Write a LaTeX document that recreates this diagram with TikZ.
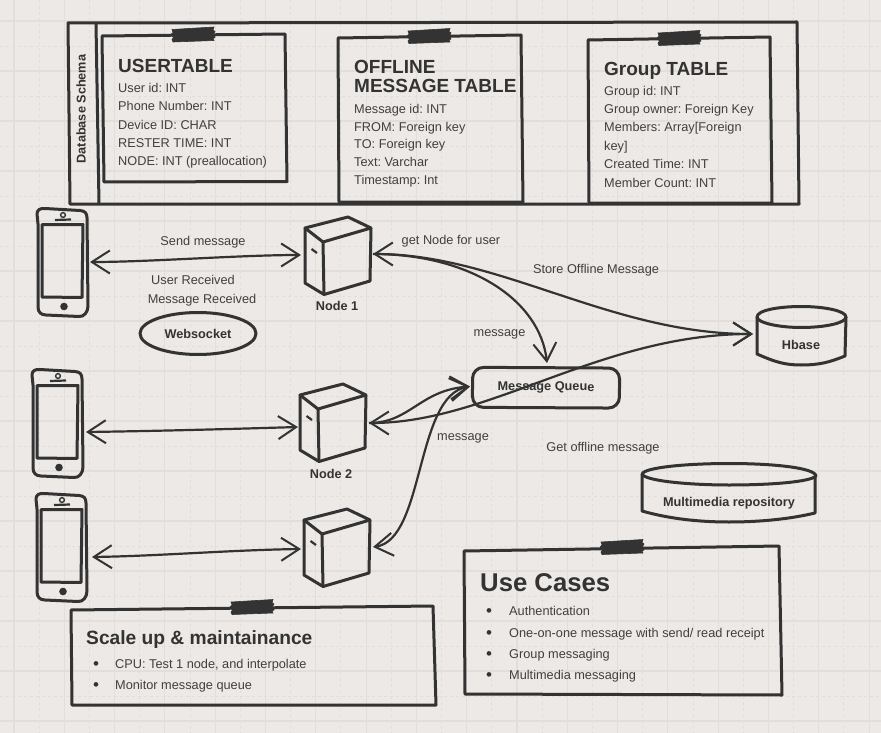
\documentclass[tikz,border=0pt]{standalone}
\usepackage{fontspec}
\setmainfont{Liberation Sans}
\frenchspacing
\usetikzlibrary{arrows.meta,shapes.geometric}
\definecolor{bg}{HTML}{ECE9E6}
\definecolor{gridc}{HTML}{E1DEDB}
\definecolor{ink}{HTML}{333333}
\definecolor{txt}{HTML}{404040}
\tikzset{
  sk/.style={draw=ink,line width=3pt,line join=round},
  thin sk/.style={draw=ink,line width=2.2pt,line join=round},
  conn/.style={draw=ink,line width=2.2pt,{Straight Barb[length=18pt,width=23pt,line width=2pt]}-{Straight Barb[length=18pt,width=23pt,line width=2pt]}},
  connto/.style={draw=ink,line width=2.2pt,-{Straight Barb[length=18pt,width=23pt,line width=2pt]}},
  tape/.style={fill=ink,draw=ink,line width=.6pt},
  lbl/.style={text=txt,font=\fontsize{12.75}{15}\selectfont,inner sep=0pt,anchor=center},
  row/.style={text=txt,font=\fontsize{12.75}{15}\selectfont,inner sep=0pt,anchor=base west},
  bul/.style={text=ink,font=\fontsize{17}{17}\selectfont,inner sep=0pt,anchor=base west},
  blbl/.style={text=ink,font=\fontsize{12.7}{15}\selectfont\bfseries,inner sep=0pt,anchor=center},
  title/.style={text=ink,font=\fontsize{19}{20}\selectfont\bfseries,inner sep=0pt,anchor=base west},
  bigtitle/.style={text=ink,font=\fontsize{25.7}{28}\selectfont\bfseries,inner sep=0pt,anchor=base west},
  midtitle/.style={text=ink,font=\fontsize{19.2}{21}\selectfont\bfseries,inner sep=0pt,anchor=base west},
}
\newcommand{\phonedraw}[1]{%
  \begin{scope}[shift={#1}]
  \draw[sk] (38,224) -- (37,214) .. controls (37,210) and (40,208) .. (45,208.5) -- (80,210.5) .. controls (85,211) and (87,213) .. (87,218) -- (88,306) .. controls (88,312) and (84,317) .. (79,316.5) -- (46,315) .. controls (41,315) and (38,312) .. (38,307) -- cycle;
  \draw[sk] (42,224.5) -- (83,224.5) -- (82,297.5) -- (42,297) -- cycle;
  \draw[thin sk] (55,220) -- (71,219.5);
  \draw[draw=ink,line width=1.4pt] (63,215) circle (2.4);
  \fill[ink] (64,306.5) circle (3.8);
  \end{scope}}
\newcommand{\serverdraw}[1]{%
  \begin{scope}[shift={#1}]
  \draw[sk] (305,228) -- (348,217) -- (371,228) -- (323,242) -- cycle;
  \draw[sk] (305,228) -- (305,283) -- (324,294.5) -- (370,281) -- (371,228);
  \draw[sk] (323,242) -- (324,294.5);
  \draw[thin sk] (311.5,249) -- (317,253);
  \end{scope}}
\newcommand{\tapedraw}[1]{%
  \fill[tape,shift={#1}] (-21,-5) -- (21,-7.5) -- (20,-4.5) -- (22,-3) -- (20.5,-.5) -- (22,3) -- (20,4) -- (21,6) -- (-20,7.5) -- (-21,5) -- (-19.5,3) -- (-22,0) -- (-20,-2) -- cycle;}
\begin{document}
\begin{tikzpicture}[x=1pt,y=-1pt]
\useasboundingbox (0,0) rectangle (881,733);
\fill[bg] (0,0) rectangle (881,733);
% grid
\foreach \i in {0,...,17}{
  \draw[gridc,line width=1.1pt] ({14+50.3*\i},0) -- ({14+50.3*\i},733);
  \draw[gridc,line width=.8pt,dashed] ({39+50.3*\i},0) -- ({39+50.3*\i},733);
}
\foreach \i in {0,...,14}{
  \draw[gridc,line width=1.1pt] (0,{21+50*\i}) -- (881,{21+50*\i});
  \draw[gridc,line width=.8pt,dashed] (0,{-4+50*\i}) -- (881,{-4+50*\i});
}
% schema frame
\draw[sk] (68,23) -- (797,22) -- (799,204) -- (70,204) -- cycle;
\draw[sk] (96,23) -- (99,204);
\node[blbl,rotate=90] (schema) at (81,109) {Database Schema};
% user table
\draw[sk] (102,36) -- (285,34) -- (287,181.5) -- (104,182) -- cycle;
\tapedraw{(193,34.5)}
\node[title] (t1) at (118,72.5) {USERTABLE};
\node[row] (t1a) at (118,92.5) {User id: INT};
\node[row] (t1b) at (118,110.5) {Phone Number: INT};
\node[row] (t1c) at (118,130) {Device ID: CHAR};
\node[row] (t1d) at (118,148) {RESTER TIME: INT};
\node[row] (t1e) at (118,166) {NODE: INT (preallocation)};
% offline table
\draw[sk] (338,38) -- (521,35) -- (523,202) -- (339,202) -- cycle;
\tapedraw{(429,36)}
\node[title] (t2) at (354,74) {OFFLINE};
\node[title] (t2t) at (354,93) {MESSAGE TABLE};
\node[row] (t2a) at (354,113.5) {Message id: INT};
\node[row] (t2b) at (354,131.5) {FROM: Foreign key};
\node[row] (t2c) at (354,149) {TO: Foreign key};
\node[row] (t2d) at (354,167) {Text: Varchar};
\node[row] (t2e) at (354,185) {Timestamp: Int};
% group table
\draw[sk] (588,40) -- (770,37) -- (772,203) -- (589,203) -- cycle;
\tapedraw{(679,38)}
\node[title] (t3) at (604,76) {Group TABLE};
\node[row] (t3a) at (604,96) {Group id: INT};
\node[row] (t3b) at (604,114) {Group owner: Foreign Key};
\node[row] (t3c) at (604,132) {Members: Array[Foreign};
\node[row] (t3d) at (604,151) {key]};
\node[row] (t3e) at (604,168) {Created Time: INT};
\node[row] (t3f) at (604,187) {Member Count: INT};
% phones, servers
\phonedraw{(0,0)}
\phonedraw{(-5,161)}
\phonedraw{(-1,285)}
\serverdraw{(0,0)}
\serverdraw{(-5,167)}
\serverdraw{(-1,292)}
\coordinate (p1) at (90,262);
\coordinate (p2) at (86,432);
\coordinate (p3) at (92,557);
\coordinate (n1w) at (301,255);
\coordinate (n2w) at (298,427);
\coordinate (n3w) at (301,549);
\coordinate (n1e) at (373,254);
\coordinate (n2e) at (369,423);
\coordinate (n3e) at (373,547);
\coordinate (qn) at (547,363);
\coordinate (qw) at (470,386.5);
\coordinate (hb) at (753,334);
\node[blbl] (n1) at (337,306) {Node 1};
\node[blbl] (n2) at (331,474) {Node 2};
% websocket
\node[sk,ellipse,minimum width=116pt,minimum height=42pt,inner sep=0pt,blbl] (ws) at (198,333.5) {Websocket};
% message queue
\node[sk,rounded corners=11pt,minimum width=147pt,minimum height=40pt,inner sep=0pt,blbl,rotate=-0.3] (mq) at (546,387.7) {Message Queue};
% hbase
\draw[sk] (757,317) .. controls (757,310) and (780,306.5) .. (801,306.5) .. controls (825,306.5) and (846,311) .. (846,317) .. controls (846,323) and (825,327.5) .. (801,327.5) .. controls (780,327.5) and (757,323) .. (757,317) -- cycle;
\draw[sk] (757,317) -- (757,354) .. controls (775,362) and (785,365) .. (801,365) .. controls (820,365) and (830,362) .. (845,356) -- (846,317);
\node[blbl] (hbl) at (801,345) {Hbase};
% multimedia
\draw[sk] (642,474) .. controls (645,467) and (690,463.5) .. (729,463.5) .. controls (775,463.5) and (815,468) .. (816,476) .. controls (810,482) and (770,485) .. (729,485) .. controls (690,485) and (645,481) .. (642,474) -- cycle;
\draw[sk] (642,474) -- (642,511) .. controls (670,519) and (700,522) .. (729,522) .. controls (760,522) and (790,519) .. (815,513) -- (815,476);
\node[blbl] (mm) at (729,503) {Multimedia repository};
% connectors
\draw[conn] (p1) .. controls (150,262) and (240,255) .. (n1w);
\draw[conn] (p2) .. controls (160,431) and (230,429) .. (n2w);
\draw[conn] (p3) .. controls (160,556) and (230,550) .. (n3w);
\draw[conn] (n1e) .. controls (500,254) and (610,334) .. (hb);
\draw[conn] (n2e) .. controls (490,423) and (600,334) .. (hb);
\draw[connto] (n1e) .. controls (470,254) and (540,300) .. (qn);
\draw[connto] (n2e) .. controls (410,423) and (420,390) .. (qw);
\draw[conn] (n3e) .. controls (425,540) and (415,395) .. (qw);
% labels
\node[lbl] (l1) at (203,242) {Send message};
\node[lbl] (l2) at (193,279.5) {User Received};
\node[lbl] (l3) at (202,300.5) {Message Received};
\node[lbl] (l4) at (451,241) {get Node for user};
\node[lbl] (l5) at (596,270) {Store Offline Message};
\node[lbl] (l6) at (499.5,334.5) {message};
\node[lbl] (l7) at (463,438) {message};
\node[lbl] (l8) at (603,448) {Get offline message};
% use cases
\draw[sk] (464,551) -- (779,546) -- (782,695) -- (465,694) -- cycle;
\tapedraw{(622,547)}
\node[bigtitle] (u0) at (480,591) {Use Cases};
\node[bul] (ub1) at (486,616.5) {•};
\node[row] (u1) at (509,615) {Authentication};
\node[bul] (ub2) at (486,638.5) {•};
\node[row] (u2) at (509,637) {One-on-one message with send/ read receipt};
\node[bul] (ub3) at (486,659.5) {•};
\node[row] (u3) at (509,658) {Group messaging};
\node[bul] (ub4) at (486,680.5) {•};
\node[row] (u4) at (509,679) {Multimedia messaging};
% scale up
\draw[sk] (71,610) -- (433,606) -- (436,705) -- (72,705) -- cycle;
\tapedraw{(252,607)}
\node[midtitle] (s0) at (86,644) {Scale up \& maintainance};
\node[bul] (sb1) at (93,669.5) {•};
\node[row] (s1) at (115,668) {CPU: Test 1 node, and interpolate};
\node[bul] (sb2) at (93,690.5) {•};
\node[row] (s2) at (115,689) {Monitor message queue};
\end{tikzpicture}
\end{document}
